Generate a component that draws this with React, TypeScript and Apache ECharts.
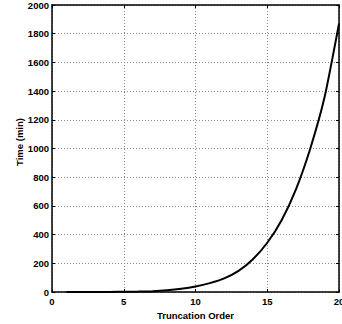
import React, { useEffect, useRef } from "react";
import * as echarts from "echarts";

// Truncation order vs. computation time (minutes)
const orders = [1, 2, 3, 4, 5, 6, 7, 8, 9, 10, 11, 12, 13, 14, 15, 16, 17, 18, 19, 20];
const timeMin = [0, 0.1, 0.2, 0.6, 1.5, 3, 6, 12, 22, 38, 62, 95, 147, 228, 343, 500, 715, 1000, 1360, 1870];

const xTicks = [0, 5, 10, 15, 20];
const yMax = 2000;
const yStep = 200;

const FONT = "'Liberation Sans', Arial, sans-serif";

export default function App() {
  const ref = useRef<HTMLDivElement>(null);

  useEffect(() => {
    if (!ref.current) return;
    const chart = echarts.init(ref.current, undefined, { renderer: "svg" });

    const labelStyle = { color: "#000", fontFamily: FONT, fontWeight: "bold" as const, fontSize: 9.5 };
    const gridLine = { show: true, lineStyle: { color: "#888", type: [1, 2] as number[], width: 1 } };
    const frame = { show: true, onZero: false, lineStyle: { color: "#000", width: 1.5 } };
    const innerTick = { show: true, inside: true, length: 3, lineStyle: { color: "#000", width: 1 } };

    chart.setOption({
      animation: false,
      backgroundColor: "#fff",
      grid: { left: 52, right: 3, top: 5, bottom: 32, containLabel: false, outerBoundsMode: "none" },
      xAxis: [
        {
          type: "value",
          min: 0,
          max: 20,
          interval: 5,
          axisLine: frame,
          axisTick: innerTick,
          splitLine: gridLine,
          axisLabel: {
            ...labelStyle,
            margin: 4,
            hideOverlap: false,
            formatter: (v: number) => (xTicks.includes(v) ? String(v) : ""),
          },
          name: "Truncation Order",
          nameLocation: "middle",
          nameGap: 15,
          nameTextStyle: { ...labelStyle },
        },
        {
          type: "value",
          position: "top",
          min: 0,
          max: 20,
          interval: 5,
          axisLine: frame,
          axisTick: innerTick,
          splitLine: { show: false },
          axisLabel: { show: false },
        },
      ],
      yAxis: [
        {
          type: "value",
          min: 0,
          max: yMax,
          interval: yStep,
          axisLine: frame,
          axisTick: innerTick,
          splitLine: gridLine,
          axisLabel: { ...labelStyle, margin: 3, formatter: (v: number) => String(v) },
        },
        {
          type: "value",
          position: "right",
          min: 0,
          max: yMax,
          interval: yStep,
          axisLine: frame,
          axisTick: innerTick,
          splitLine: { show: false },
          axisLabel: { show: false },
        },
      ],
      graphic: [
        {
          type: "text",
          x: 19,
          y: 142,
          rotation: Math.PI / 2,
          style: {
            text: "Time (min)",
            fill: "#000",
            font: `bold 9.5px ${FONT}`,
            textAlign: "center",
            textVerticalAlign: "middle",
          },
        },
      ],
      series: [
        {
          type: "line",
          data: orders.map((o, i) => [o, timeMin[i]]),
          showSymbol: false,
          smooth: 0.2,
          lineStyle: { color: "#000", width: 2 },
          clip: true,
        },
      ],
    });

    return () => chart.dispose();
  }, []);

  return (
    <div
      ref={ref}
      style={{ position: "fixed", left: 0, top: 0, width: 342, height: 324, background: "#fff" }}
    />
  );
}
